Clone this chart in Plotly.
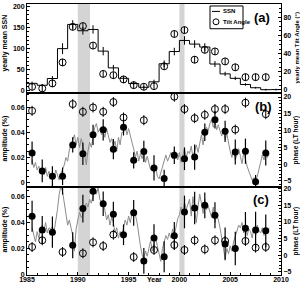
import plotly.graph_objects as go
import numpy as np

# ---------------- data ----------------
ssn_years = list(range(1985, 2011))
ssn = [17.9, 13.4, 29.4, 100.2, 157.6, 142.6, 145.7, 94.3, 54.6, 29.9, 17.5, 8.6,
       21.5, 64.3, 93.3, 119.6, 111.0, 104.0, 63.7, 40.4, 29.8, 15.2, 7.5, 2.9, 3.1, 3.1]
ssn_err = [4, 3, 6, 13, 10, 9, 10, 10, 7, 5, 4, 3, 5, 8, 9, 10, 9, 9, 7, 5, 4, 3, 2, 2, 2]

years = list(range(1985, 2009))
tilt = [3.4, 1.6, 7.1, 30.3, 69.6, 70.4, 48.9, 17.6, 16.2, 11.5, 5.2, 3.4,
        4.1, 26.0, 61.7, 66.0, 33.3, 44.2, 42.4, 31.4, 24.9, 14.0, 14.0, 14.0]
tilt_err = [4] * 24

amp_b = [0.0235, 0.0093, 0.005, 0.005, 0.030, 0.023, 0.038, 0.042, 0.0266, 0.044, 0.0177, 0.0248,
         0.0117, 0.0033, 0.0217, 0.019, 0.0203, 0.040, 0.050, 0.0408, 0.0243, 0.025, 0.0006, 0.0235]
amp_b_err = [0.0092, 0.009, 0.008, 0.007, 0.006, 0.009, 0.008, 0.0085, 0.008, 0.0065, 0.0065, 0.0085,
             0.01, 0.007, 0.007, 0.009, 0.01, 0.007, 0.007, 0.0085, 0.01, 0.01, 0.0055, 0.01]
phase_b = [15.9, None, None, None, 17.9, 15.6, 16.9, 15.6, 18.5, 13.9, None, 13.1,
           None, None, 20.1, 16.4, 13.7, 14.7, 16.4, 16.4, 10.3, 18.3, None, 14.9]
phase_b_err = [1.5] * 24

amp_c = [0.0449, 0.0343, 0.0326, 0.0686, 0.0225, 0.0508, 0.0642, 0.0545, 0.0465, 0.0306, 0.0475, 0.0104,
         0.028, 0.0136, 0.0298, 0.0482, 0.0513, 0.0533, 0.0457, 0.0235, 0.020, 0.0356, 0.0343, 0.0336]
amp_c_err = [0.012, 0.0107, 0.012, 0.007, 0.01, 0.0107, 0.0076, 0.0095, 0.0095, 0.008, 0.01, 0.01,
             0.0107, 0.012, 0.0107, 0.0126, 0.0126, 0.01, 0.01, 0.0126, 0.013, 0.0126, 0.014, 0.0126]
phase_c = [2.5, 4.5, None, 1.0, None, 0.6, 3.9, 2.8, 6.2, None, -0.5, None,
           1.6, None, 3.1, 1.6, 4.5, 1.8, 4.5, 4.3, None, 4.3, 2.3, 2.5]
phase_c_err = [1.5] * 24

gray_start = 1985.5
gray_per_year = 6
gray_b = [0.018, 0.012, 0.016, 0.010, 0.013, 0.008,
          0.010, 0.006, 0.012, 0.005, 0.009, 0.004,
          0.008, 0.003, 0.010, 0.006, 0.002, 0.007,
          0.010, 0.014, 0.020, 0.017, 0.026, 0.030,
          0.033, 0.038, 0.030, 0.036, 0.028, 0.035,
          0.030, 0.020, 0.014, 0.025, 0.032, 0.028,
          0.036, 0.044, 0.047, 0.040, 0.043, 0.038,
          0.041, 0.036, 0.043, 0.037, 0.032, 0.035,
          0.028, 0.033, 0.025, 0.036, 0.030, 0.040,
          0.040, 0.045, 0.038, 0.043, 0.036, 0.032,
          0.027, 0.020, 0.025, 0.017, 0.023, 0.019,
          0.024, 0.016, 0.021,
          0.016, 0.010, 0.014, 0.008, 0.012, 0.005,
          0.003, 0.008, 0.012, 0.018, 0.022, 0.017,
          0.020, 0.024, 0.019, 0.026, 0.022, 0.018,
          0.024, 0.016, 0.022, 0.027, 0.020, 0.025,
          0.023, 0.029, 0.020, 0.026, 0.030, 0.024,
          0.033, 0.038, 0.030, 0.040, 0.044, 0.041,
          0.047, 0.050, 0.044, 0.049, 0.042, 0.046,
          0.041, 0.037, 0.043, 0.034, 0.039, 0.030,
          0.025, 0.020, 0.026, 0.018, 0.022, 0.027,
          0.021, 0.015, 0.024, 0.018, 0.013, 0.009,
          0.006, 0.002, 0.004, 0.001, 0.005, 0.010,
          0.016, 0.022, 0.018, 0.025, 0.020, 0.023]
gray_c = [0.036, 0.030, 0.025, 0.033, 0.028, 0.035,
          0.038, 0.034, 0.040, 0.032, 0.036, 0.035,
          0.037, 0.033, 0.040, 0.050, 0.062, 0.068,
          0.064, 0.055, 0.045, 0.038, 0.042, 0.036,
          0.030, 0.018, 0.035, 0.042, 0.048, 0.044,
          0.046, 0.050, 0.055, 0.052, 0.058, 0.055,
          0.060, 0.066, 0.062, 0.067, 0.058, 0.055,
          0.057, 0.050, 0.042, 0.046, 0.038, 0.044,
          0.040, 0.032, 0.036, 0.028, 0.033, 0.030,
          0.035, 0.042, 0.038, 0.045, 0.040, 0.047,
          0.050, 0.046, 0.040, 0.030, 0.022, 0.015,
          0.012, 0.018, 0.014,
          0.020, 0.026, 0.018, 0.024, 0.028, 0.022,
          0.016, 0.010, 0.020, 0.025, 0.030, 0.027,
          0.032, 0.028, 0.035, 0.030, 0.038, 0.043,
          0.046, 0.052, 0.048, 0.056, 0.050, 0.054,
          0.058, 0.045, 0.060, 0.050, 0.040, 0.052,
          0.062, 0.055, 0.047, 0.058, 0.050, 0.053,
          0.048, 0.044, 0.052, 0.040, 0.046, 0.042,
          0.036, 0.028, 0.018, 0.012, 0.020, 0.016,
          0.022, 0.018, 0.025, 0.030, 0.034, 0.038,
          0.036, 0.040, 0.032, 0.038, 0.030, 0.035,
          0.033, 0.028, 0.036, 0.030, 0.038, 0.034,
          0.032, 0.036, 0.030, 0.035, 0.033, 0.036]

bands = [(1990.0, 1991.2), (2000.0, 2000.5)]

# ---------------- figure ----------------
FONT = "Liberation Sans"
mid = [y + 0.5 for y in years]
ssn_mid = [y + 0.5 for y in ssn_years[:-1]]
gray_t_b = gray_start + np.arange(len(gray_b)) / gray_per_year
gray_t_c = gray_start + np.arange(len(gray_c)) / gray_per_year

open_marker = dict(symbol="circle-open", size=7, color="black", line=dict(width=1, color="black"))
fill_marker = dict(symbol="circle", size=7, color="black")

fig = go.Figure()

# panel (a)
fig.add_trace(go.Scatter(x=ssn_years, y=ssn, mode="lines", line=dict(shape="hv", color="black", width=1),
                         xaxis="x3", yaxis="y", showlegend=False))
fig.add_trace(go.Scatter(x=ssn_mid, y=ssn[:-1], mode="markers", marker=dict(size=2, opacity=0),
                         error_y=dict(type="data", array=ssn_err, width=0, thickness=1, color="black"),
                         xaxis="x3", yaxis="y", showlegend=False))
fig.add_trace(go.Scatter(x=mid, y=tilt, mode="markers", marker=open_marker,
                         error_y=dict(type="data", array=tilt_err, width=0, thickness=1, color="black"),
                         xaxis="x3", yaxis="y2", showlegend=False))

# panel (b)
fig.add_trace(go.Scatter(x=gray_t_b, y=gray_b, mode="lines", line=dict(color="#8c8c8c", width=1),
                         xaxis="x2", yaxis="y3", showlegend=False))
fig.add_trace(go.Scatter(x=mid, y=phase_b, mode="markers", marker=open_marker,
                         error_y=dict(type="data", array=phase_b_err, width=0, thickness=1, color="black"),
                         xaxis="x2", yaxis="y4", showlegend=False, cliponaxis=False))
fig.add_trace(go.Scatter(x=mid, y=amp_b, mode="markers", marker=fill_marker,
                         error_y=dict(type="data", array=amp_b_err, width=0, thickness=1.2, color="black"),
                         xaxis="x2", yaxis="y3", showlegend=False))

# panel (c)
fig.add_trace(go.Scatter(x=gray_t_c, y=gray_c, mode="lines", line=dict(color="#8c8c8c", width=1),
                         xaxis="x", yaxis="y5", showlegend=False))
fig.add_trace(go.Scatter(x=mid, y=phase_c, mode="markers", marker=open_marker,
                         error_y=dict(type="data", array=phase_c_err, width=0, thickness=1, color="black"),
                         xaxis="x", yaxis="y6", showlegend=False))
fig.add_trace(go.Scatter(x=mid, y=amp_c, mode="markers", marker=fill_marker,
                         error_y=dict(type="data", array=amp_c_err, width=0, thickness=1.2, color="black"),
                         xaxis="x", yaxis="y5", showlegend=False, cliponaxis=False))

L, R, T, B = 27, 19, 2, 9
W, H = 300, 285
pw, ph = W - L - R, H - T - B


def px(xp):
    return (xp - L) / pw


def py(yp):
    return (H - B - yp) / ph


da = [py(92), 1.0]
db = [py(187), py(92)]
dc = [0.0, py(187)]

tf = dict(family=FONT, size=7, color="black", weight="bold")
common_y = dict(showgrid=False, zeroline=False, showline=True, linecolor="black", linewidth=1,
                ticks="inside", ticklen=3, tickwidth=1, tickcolor="black", tickfont=tf)
common_x = dict(range=[1985, 2010], showgrid=False, zeroline=False, showline=True, linecolor="black",
                linewidth=1, mirror=True)

fig.update_layout(
    width=W, height=H, margin=dict(l=L, r=R, t=T, b=B),
    paper_bgcolor="white", plot_bgcolor="white", showlegend=False,
    xaxis=dict(**common_x, anchor="y5", tickvals=[1985, 1990, 1995, 2000, 2005, 2010], ticks="inside",
               ticklen=3, tickcolor="black", tickfont=tf, ticklabelstandoff=-2,
               minor=dict(dtick=1, ticks="inside", ticklen=2, tickcolor="black")),
    xaxis2=dict(**common_x, anchor="y3", matches="x", showticklabels=False),
    xaxis3=dict(**common_x, anchor="y", matches="x", showticklabels=False),
    yaxis=dict(**common_y, domain=da, anchor="x3", range=[-5, 206], tickvals=[0, 50, 100, 150, 200],
               minor=dict(dtick=10, ticks="inside", ticklen=2, tickcolor="black")),
    yaxis2=dict(**common_y, overlaying="y", side="right", anchor="x3", range=[-3.5, 94.8],
                tickvals=[0, 20, 40, 60, 80], minor=dict(dtick=5, ticks="inside", ticklen=2, tickcolor="black")),
    yaxis3=dict(**common_y, domain=db, anchor="x2", range=[-0.0035, 0.0713], tickvals=[0, 0.02, 0.04, 0.06],
                ticktext=["0", "0.02", "0.04", "0.06"],
                minor=dict(dtick=0.005, ticks="inside", ticklen=2, tickcolor="black")),
    yaxis4=dict(**common_y, overlaying="y3", side="right", anchor="x2", range=[-6.8, 21.2],
                tickvals=[-5, 0, 5, 10, 15, 20], minor=dict(dtick=1, ticks="inside", ticklen=2, tickcolor="black")),
    yaxis5=dict(**common_y, domain=dc, anchor="x", range=[-0.0005, 0.0675], tickvals=[0, 0.02, 0.04, 0.06],
                ticktext=["0", "0.02", "0.04", "0.06"],
                minor=dict(dtick=0.005, ticks="inside", ticklen=2, tickcolor="black")),
    yaxis6=dict(**common_y, overlaying="y5", side="right", anchor="x", range=[-5.9, 20.5],
                tickvals=[-5, 0, 5, 10, 15, 20], minor=dict(dtick=1, ticks="inside", ticklen=2, tickcolor="black")),
)

shapes = []
for x0, x1 in bands:
    shapes.append(dict(type="rect", xref="x", yref="paper", x0=x0, x1=x1, y0=0, y1=1,
                       fillcolor="#d4d4d4", line=dict(width=0), layer="below"))
# manual legend
shapes.append(dict(type="rect", xref="paper", yref="paper", x0=px(210), x1=px(243), y0=py(27), y1=py(4),
                   line=dict(color="black", width=1), fillcolor="white"))
shapes.append(dict(type="line", xref="paper", yref="paper", x0=px(212), x1=px(220), y0=py(9.5), y1=py(9.5),
                   line=dict(color="black", width=1)))
shapes.append(dict(type="circle", xref="paper", yref="paper", x0=px(213), x1=px(219), y0=py(23), y1=py(17),
                   line=dict(color="black", width=1)))
fig.update_layout(shapes=shapes)

lab = dict(family=FONT, size=7, color="black", weight="bold")
small = dict(family=FONT, size=6, color="black", weight="bold")
big = dict(family=FONT, size=13, color="black", weight="bold")
ann = [
    dict(text="SSN", x=px(221), y=py(9.5), xanchor="left", font=small),
    dict(text="Tilt Angle", x=px(221), y=py(20), xanchor="left", font=small),
    dict(text="(a)", x=px(262), y=py(16), font=big),
    dict(text="(b)", x=px(263), y=py(106), font=big),
    dict(text="(c)", x=px(261), y=py(200), font=big),
    dict(text="yearly mean SSN", x=px(5), y=py(42), textangle=-90, font=lab),
    dict(text="amplitude (%)", x=px(5), y=py(138), textangle=-90, font=lab),
    dict(text="amplitude (%)", x=px(5), y=py(230), textangle=-90, font=lab),
    dict(text="yearly mean Tilt Angle (\u00b0)", x=px(297), y=py(47), textangle=-90, font=small),
    dict(text="phase (LT hour)", x=px(296), y=py(140), textangle=-90, font=dict(small, size=6.5)),
    dict(text="phase (LT hour)", x=px(296), y=py(232), textangle=-90, font=dict(small, size=6.5)),
    dict(text="Year", x=px(154), y=py(281), font=lab),
]
for a in ann:
    a.update(xref="paper", yref="paper", showarrow=False)
    a.setdefault("xanchor", "center")
    a.setdefault("yanchor", "middle")
fig.update_layout(annotations=ann)

fig.write_html("out.html", config={"displayModeBar": False},
               post_script="document.body.style.margin='0';document.body.style.padding='0';")
